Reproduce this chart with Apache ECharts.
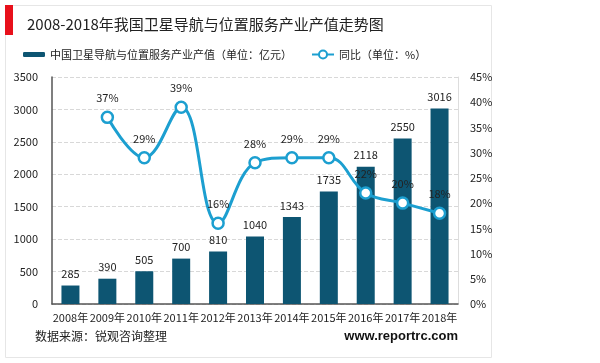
<!DOCTYPE html>
<html><head><meta charset="utf-8">
<script src="https://cdn.jsdelivr.net/npm/echarts@6/dist/echarts.min.js"></script>
<style>html,body{margin:0;padding:0;background:#fff}#c{width:600px;height:363px}</style>
</head><body><div id="c"></div>
<script>
const categories = ['2008年','2009年','2010年','2011年','2012年','2013年','2014年','2015年','2016年','2017年','2018年'];
const outputValues = [285, 390, 505, 700, 810, 1040, 1343, 1735, 2118, 2550, 3016];
const growthValues = [null, 37, 29, 39, 16, 28, 29, 29, 22, 20, 18];
const barName = '中国卫星导航与位置服务产业产值（单位：亿元）';
const lineName = '同比（单位：%）';
const font = '"Noto Sans CJK SC", "Microsoft YaHei", sans-serif';

const chart = echarts.init(document.getElementById('c'));
chart.setOption({
  animation: false,
  textStyle: {fontFamily: font},
  graphic: [
    {type: 'rect', shape: {x: 5.5, y: 5.5, width: 486, height: 352}, style: {fill: 'none', stroke: '#e6e6e6', lineWidth: 1}, z: -10},
    {type: 'rect', shape: {x: 5, y: 5, width: 8, height: 30}, style: {fill: '#e8101b'}},
    {type: 'text', left: 35, top: 330, style: {text: '数据来源：锐观咨询整理', font: '12px ' + font, fill: '#222'}},
    {type: 'text', right: 142, top: 330, style: {text: 'www.reportrc.com', font: 'bold 13px Arial, "Liberation Sans", sans-serif', fill: '#111'}}
  ],
  title: {text: '2008-2018年我国卫星导航与位置服务产业产值走势图', left: 22, top: 12,
    textStyle: {fontSize: 15, fontWeight: 'normal', color: '#222', fontFamily: font}},
  legend: [
    {data: [barName], left: 18, top: 44, itemWidth: 22, itemHeight: 5, itemGap: 4,
      textStyle: {fontSize: 11, color: '#222', fontFamily: font}},
    {data: [lineName], left: 306, top: 44, itemWidth: 22, itemHeight: 10,
      textStyle: {fontSize: 11, color: '#222', fontFamily: font}}
  ],
  grid: {left: 52, right: 142, top: 77, bottom: 59},
  xAxis: {type: 'category', data: categories,
    axisLine: {lineStyle: {color: '#555', width: 1.5}}, axisTick: {show: false},
    axisLabel: {color: '#222', fontSize: 11, interval: 0, margin: 8}},
  yAxis: [
    {type: 'value', min: 0, max: 3500, interval: 500,
      axisLine: {show: true, lineStyle: {color: '#555', width: 1.5}},
      axisLabel: {color: '#222', fontSize: 11, margin: 14, formatter: v => String(v)},
      splitLine: {lineStyle: {type: 'dashed', color: '#d8d8d8'}}},
    {type: 'value', min: 0, max: 45, interval: 5,
      axisLine: {show: true, lineStyle: {color: '#ddd'}},
      axisLabel: {color: '#222', fontSize: 11, formatter: '{value}%', margin: 12},
      splitLine: {show: false}}
  ],
  series: [
    {name: barName, type: 'bar', data: outputValues, barWidth: 18,
      itemStyle: {color: '#0d5572'},
      label: {show: true, position: 'top', color: '#222', fontSize: 11, distance: 6}},
    {name: lineName, type: 'line', yAxisIndex: 1, data: growthValues, smooth: 0.4,
      symbol: 'circle', symbolSize: 11,
      lineStyle: {color: '#1c9fd0', width: 3},
      itemStyle: {color: '#fff', borderColor: '#1c9fd0', borderWidth: 2.5},
      label: {show: true, position: 'top', formatter: '{c}%', color: '#222', fontSize: 11, distance: 7}}
  ]
});
</script></body></html>
